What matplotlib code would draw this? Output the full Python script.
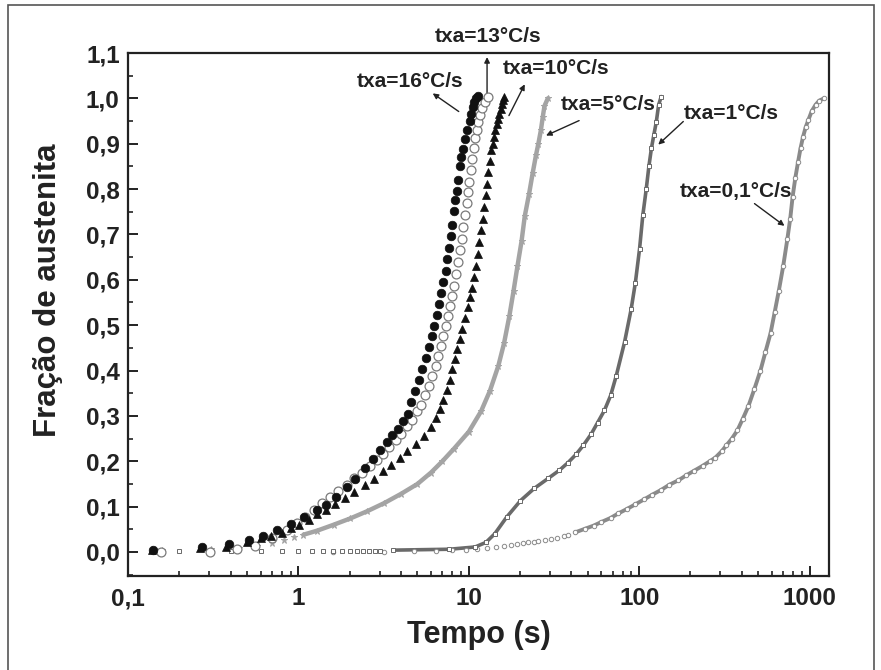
import matplotlib
matplotlib.use('Agg')
import matplotlib.pyplot as plt
from matplotlib.ticker import FixedLocator, FixedFormatter, LogLocator, NullFormatter, MultipleLocator
from matplotlib.patches import Rectangle

plt.rcParams['font.family'] = ['Liberation Sans', 'DejaVu Sans']
plt.rcParams['font.weight'] = 'bold'

# ---------------- data (time in s, austenite fraction) ----------------
t16 = [0.14, 0.27, 0.39, 0.51, 0.62, 0.75, 0.90, 1.08, 1.29, 1.46, 1.67, 1.92, 2.14, 2.45,
       2.75, 3.01, 3.29, 3.56, 3.86, 4.13, 4.40, 4.60, 4.85, 5.10, 5.34, 5.60, 5.84, 6.05,
       6.25, 6.47, 6.69, 6.90, 7.10, 7.30, 7.49, 7.67, 7.84, 8.00, 8.20, 8.35, 8.49, 8.68,
       8.90, 9.05, 9.20, 9.45, 9.75, 10.1, 10.35, 10.55, 10.75, 11.0, 11.25]
f16 = [0.004, 0.010, 0.017, 0.027, 0.036, 0.049, 0.061, 0.077, 0.093, 0.104, 0.122, 0.143,
       0.161, 0.185, 0.205, 0.224, 0.242, 0.257, 0.272, 0.289, 0.305, 0.330, 0.355, 0.380,
       0.403, 0.427, 0.451, 0.475, 0.498, 0.522, 0.546, 0.570, 0.595, 0.620, 0.646, 0.670,
       0.697, 0.720, 0.751, 0.775, 0.796, 0.820, 0.850, 0.870, 0.889, 0.910, 0.930, 0.950,
       0.965, 0.980, 0.993, 1.000, 1.005]

t13 = [0.156, 0.303, 0.437, 0.56, 0.70, 0.86, 0.98, 1.10, 1.23, 1.38, 1.54, 1.70, 1.92, 2.13,
       2.37, 2.63, 2.88, 3.15, 3.41, 3.72, 4.02, 4.36, 4.67, 4.95, 5.22, 5.50, 5.84, 6.10,
       6.39, 6.62, 6.85, 7.10, 7.33, 7.55, 7.77, 8.00, 8.20, 8.42, 8.65, 8.88, 9.10, 9.30,
       9.50, 9.73, 9.90, 10.05, 10.25, 10.45, 10.66, 10.85, 11.1, 11.35, 11.6, 12.0, 12.4, 12.9]
f13 = [0.000, 0.000, 0.007, 0.014, 0.030, 0.048, 0.063, 0.077, 0.092, 0.107, 0.121, 0.134,
       0.148, 0.162, 0.175, 0.189, 0.203, 0.217, 0.231, 0.246, 0.261, 0.277, 0.292, 0.310,
       0.325, 0.345, 0.366, 0.388, 0.410, 0.432, 0.454, 0.476, 0.498, 0.520, 0.543, 0.565,
       0.587, 0.613, 0.639, 0.665, 0.690, 0.716, 0.742, 0.770, 0.794, 0.816, 0.842, 0.867,
       0.890, 0.912, 0.930, 0.947, 0.963, 0.978, 0.993, 1.003]

t10 = [0.139, 0.266, 0.377, 0.50, 0.60, 0.69, 0.80, 0.90, 1.01, 1.15, 1.29, 1.46, 1.65, 1.87,
       2.13, 2.45, 2.77, 3.15, 3.50, 3.93, 4.36, 4.87, 5.46, 5.97, 6.40, 6.80, 7.10, 7.43,
       7.73, 8.02, 8.30, 8.58, 8.88, 9.18, 9.50, 9.83, 10.1, 10.4, 10.7, 11.0, 11.25, 11.5,
       11.78, 12.05, 12.3, 12.6, 12.8, 13.0, 13.25, 13.5, 13.8, 14.0, 14.3, 14.6, 14.85,
       15.1, 15.35, 15.6, 15.9, 16.2]
f10 = [0.004, 0.008, 0.012, 0.023, 0.030, 0.036, 0.041, 0.052, 0.060, 0.070, 0.083, 0.093,
       0.105, 0.120, 0.133, 0.147, 0.161, 0.178, 0.192, 0.207, 0.222, 0.237, 0.255, 0.276,
       0.295, 0.315, 0.335, 0.358, 0.380, 0.403, 0.425, 0.447, 0.469, 0.491, 0.515, 0.539,
       0.561, 0.583, 0.607, 0.631, 0.657, 0.683, 0.709, 0.735, 0.760, 0.786, 0.812, 0.838,
       0.862, 0.886, 0.900, 0.915, 0.930, 0.943, 0.955, 0.966, 0.977, 0.987, 0.997, 1.004]

t5 = [0.158, 0.308, 0.446, 0.57, 0.70, 0.82, 0.94, 1.07, 1.29, 1.61, 2.02, 2.54, 3.2, 4.0,
      5.0, 6.0, 7.0, 8.2, 10.0, 11.8, 13.3, 14.9, 16.1, 17.3, 18.3, 19.3, 20.4, 21.3, 22.6,
      23.7, 24.8, 25.6, 26.5, 27.2, 27.8, 29.1]
f5 = [0.005, 0.006, 0.009, 0.014, 0.020, 0.026, 0.032, 0.038, 0.047, 0.060, 0.074, 0.090,
      0.108, 0.128, 0.150, 0.175, 0.200, 0.228, 0.265, 0.310, 0.355, 0.410, 0.460, 0.520,
      0.575, 0.630, 0.685, 0.740, 0.790, 0.835, 0.875, 0.900, 0.930, 0.960, 0.983, 1.000]

t1 = [0.2, 0.4, 0.6, 0.8, 1.0, 1.2, 1.4, 1.6, 1.8, 2.0, 2.2, 2.4, 2.6, 2.8, 3.0, 3.6, 7.7,
      10.9, 12.6, 14.2, 16.7, 20.1, 24.2, 29.2, 34.0, 38.0, 42.6, 47.0, 52.3, 57.0, 62.5,
      68.0, 73.3, 82.0, 89.7, 95.0, 100.5, 105.0, 110.0, 114.0, 118.0, 122.0, 126.0, 130.0,
      134.6]
f1 = [0.002, 0.002, 0.002, 0.002, 0.002, 0.002, 0.002, 0.002, 0.002, 0.002, 0.003, 0.003,
      0.003, 0.003, 0.003, 0.004, 0.006, 0.011, 0.021, 0.040, 0.077, 0.113, 0.140, 0.162,
      0.180, 0.196, 0.215, 0.235, 0.260, 0.285, 0.312, 0.345, 0.388, 0.462, 0.535, 0.594,
      0.668, 0.742, 0.800, 0.850, 0.890, 0.920, 0.948, 0.985, 1.004]

t01 = [1.6, 3.2, 4.8, 6.4, 8.0, 9.6, 11.2, 12.8, 14.4, 16.0, 17.6, 19.2, 20.8, 22.4, 24.0,
       25.6, 28.0, 30.4, 33.0, 36.0, 38.0, 42.0, 48.0, 54.0, 60.0, 68.0, 75.5, 85.0, 95.0,
       107, 119, 135, 150, 170, 189, 210, 236, 260, 280, 305, 325, 350, 377, 405, 438, 475,
       515, 550, 590, 625, 660, 700, 740, 770, 795, 825, 855, 885, 915, 950, 985, 1030,
       1085, 1140, 1215]
f01 = [0.000, 0.001, 0.002, 0.003, 0.004, 0.005, 0.007, 0.009, 0.011, 0.013, 0.015, 0.017,
       0.019, 0.021, 0.022, 0.024, 0.026, 0.028, 0.031, 0.035, 0.038, 0.043, 0.051, 0.058,
       0.066, 0.075, 0.085, 0.095, 0.105, 0.116, 0.126, 0.137, 0.148, 0.158, 0.169, 0.179,
       0.190, 0.200, 0.208, 0.222, 0.235, 0.250, 0.268, 0.293, 0.322, 0.360, 0.400, 0.440,
       0.482, 0.530, 0.576, 0.630, 0.689, 0.735, 0.783, 0.825, 0.859, 0.890, 0.915, 0.937,
       0.953, 0.972, 0.986, 0.995, 1.000]

x_ticks = [0.1, 1, 10, 100, 1000]
x_labels = ['0,1', '1', '10', '100', '1000']
y_ticks = [0.0, 0.1, 0.2, 0.3, 0.4, 0.5, 0.6, 0.7, 0.8, 0.9, 1.0, 1.1]
y_labels = ['0,0', '0,1', '0,2', '0,3', '0,4', '0,5', '0,6', '0,7', '0,8', '0,9', '1,0', '1,1']

# annotations: label, text position, arrow tail, arrow tip (data coords)
ann = [
    ('txa=16°C/s', (4.53, 1.038), (8.73, 0.971), (6.14, 1.011)),
    ('txa=13°C/s', (12.9, 1.137), (12.8, 1.011), (12.8, 1.091)),
    ('txa=10°C/s', (32.5, 1.066), (17.2, 0.962), (21.3, 1.031)),
    ('txa=5°C/s', (66.2, 0.987), (44.4, 0.951), (28.4, 0.918)),
    ('txa=1°C/s', (347, 0.967), (181.5, 0.949), (129.4, 0.898)),
    ('txa=0,1°C/s', (372, 0.794), (475, 0.768), (712, 0.719)),
]

# ---------------- figure ----------------
W, H = 881, 670
fig = plt.figure(figsize=(W / 100, H / 100), dpi=100)
ax = fig.add_axes([128 / W, 1 - 576 / H, (829 - 128) / W, (576 - 53) / H])

# dense series: line + markers
def dense(t, f, tmin, color, marker, ms, mfc, lw):
    tl = [a for a in t if a >= tmin]
    fl = [b for a, b in zip(t, f) if a >= tmin]
    ax.plot(tl, fl, '-', color=color, lw=lw, solid_capstyle='round', zorder=2)
    ax.plot(t, f, linestyle='none', marker=marker, ms=ms, mfc=mfc, mec=color, mew=0.7, zorder=3)

dense(t01, f01, 40, '#8a8a8a', 'o', 3.2, 'white', 2.8)
dense(t1, f1, 3.5, '#6a6a6a', 's', 2.6, 'white', 2.6)
dense(t5, f5, 1.0, '#a4a4a4', '*', 4.8, '#a4a4a4', 3.2)

ax.plot(t13, f13, linestyle='none', marker='o', ms=6.4, mfc='white', mec='#7a7a7a', mew=0.9, zorder=4)
ax.plot(t10, f10, linestyle='none', marker='^', ms=6.0, mfc='#111111', mec='#111111', mew=0.5, zorder=5)
ax.plot(t16, f16, linestyle='none', marker='o', ms=6.2, mfc='#111111', mec='#111111', mew=0.5, zorder=6)

ax.set_xscale('log')
ax.set_xlim(0.1, 1300)
ax.set_ylim(-0.053, 1.1)

ax.xaxis.set_major_locator(FixedLocator(x_ticks))
ax.xaxis.set_major_formatter(FixedFormatter(x_labels))
ax.xaxis.set_minor_locator(LogLocator(base=10, subs=[2, 3, 4, 5, 6, 7, 8, 9], numticks=20))
ax.xaxis.set_minor_formatter(NullFormatter())
ax.yaxis.set_major_locator(FixedLocator(y_ticks))
ax.yaxis.set_major_formatter(FixedFormatter(y_labels))
ax.yaxis.set_minor_locator(MultipleLocator(0.05))

for s in ax.spines.values():
    s.set_linewidth(1.6)
    s.set_color('#222222')
ax.tick_params(which='major', direction='in', length=7, width=1.4, labelsize=17.5,
               colors='#222222', top=False, right=False)
ax.tick_params(axis='x', which='major', pad=8)
ax.tick_params(axis='y', which='major', pad=6)
ax.tick_params(which='minor', direction='in', length=3.5, width=1.2, colors='#222222',
               top=False, right=False)
for lab in ax.get_xticklabels() + ax.get_yticklabels():
    lab.set_fontweight('bold')

for txt, tp, tail, tip in ann:
    ax.text(tp[0], tp[1], txt, ha='center', va='center', fontsize=15, fontweight='bold',
            color='#222222', clip_on=False)
    ax.annotate('', xy=tip, xytext=tail,
                arrowprops=dict(arrowstyle='-|>', lw=1.0, color='#222222', mutation_scale=8,
                                shrinkA=0, shrinkB=0), annotation_clip=False)

fig.text(479 / W, 1 - 635 / H, 'Tempo (s)', ha='center', va='center', fontsize=22,
         fontweight='bold', color='#222222')
fig.text(48 / W, 1 - 290 / H, 'Fração de austenita', ha='center', va='center', rotation=90,
         fontsize=22.5, fontweight='bold', color='#222222')

fig.add_artist(Rectangle((8 / W, -0.02), (874 - 8) / W, 1.02 - 5 / H, transform=fig.transFigure,
                         fill=False, ec='#555555', lw=1.2))

fig.savefig('out.png', dpi=100)
